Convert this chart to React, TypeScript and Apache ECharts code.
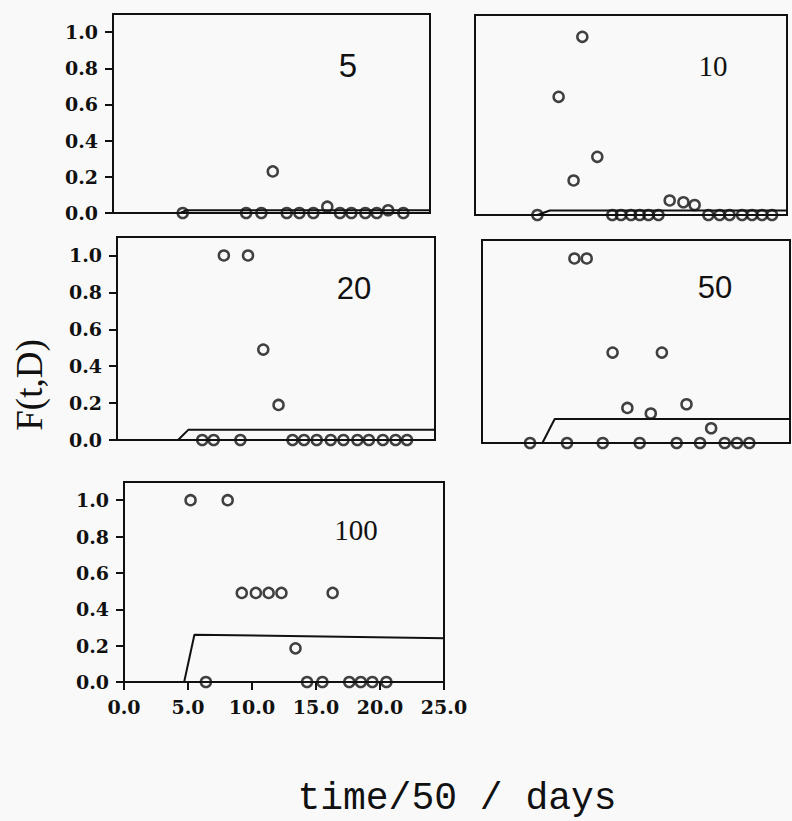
import React, { useEffect, useRef } from "react";
import * as echarts from "echarts";

// ---------- data ----------
const panelNames = ["5", "10", "20", "50", "100"];
const xTicks = [0, 5, 10, 15, 20, 25];
const yTicks = [0, 0.2, 0.4, 0.6, 0.8, 1.0];

// observed points (time/50, F)
const t5 = [5.5, 10.5, 11.7, 12.6, 13.7, 14.7, 15.8, 16.9, 17.9, 18.8, 19.9, 20.8, 21.7, 22.9];
const f5 = [0, 0, 0, 0.23, 0, 0, 0, 0.035, 0, 0, 0, 0, 0.015, 0];

const t10 = [5.0, 6.7, 7.9, 8.6, 9.8, 11.0, 11.7, 12.5, 13.2, 13.9, 14.7, 15.6, 16.7, 17.6, 18.7, 19.6, 20.4, 21.4, 22.2, 23.0, 23.8];
const f10 = [0, 0.65, 0.19, 0.98, 0.32, 0, 0, 0, 0, 0, 0, 0.08, 0.07, 0.055, 0, 0, 0, 0, 0, 0, 0];

const t20 = [6.7, 7.6, 8.4, 9.7, 10.3, 11.5, 12.7, 13.8, 14.7, 15.7, 16.8, 17.8, 18.9, 19.8, 20.9, 21.9, 22.8];
const f20 = [0, 0, 1.0, 0, 1.0, 0.49, 0.19, 0, 0, 0, 0, 0, 0, 0, 0, 0, 0];

const t50 = [3.9, 6.9, 7.5, 8.5, 9.8, 10.6, 11.8, 12.8, 13.7, 14.6, 15.8, 16.6, 17.7, 18.6, 19.7, 20.7, 21.7];
const f50 = [0, 0, 1.0, 1.0, 0, 0.49, 0.19, 0, 0.16, 0.49, 0, 0.21, 0, 0.08, 0, 0, 0];

const t100 = [5.2, 6.4, 8.1, 9.2, 10.3, 11.3, 12.3, 13.4, 14.3, 15.5, 16.3, 17.6, 18.5, 19.4, 20.5];
const f100 = [1.0, 0, 1.0, 0.49, 0.49, 0.49, 0.49, 0.185, 0, 0, 0.49, 0, 0, 0, 0];

// model curves
const m5t = [0, 5.3, 5.8, 25.3];
const m5f = [0, 0, 0.015, 0.015];
const m10t = [0, 5.0, 6.0, 25.2];
const m10f = [0, 0, 0.025, 0.025];
const m20t = [0, 4.8, 5.6, 25.5];
const m20f = [0, 0, 0.055, 0.055];
const m50t = [0, 4.9, 5.9, 25];
const m50f = [0, 0, 0.13, 0.13];
const m100t = [0, 4.7, 5.5, 25.5];
const m100f = [0, 0, 0.26, 0.24];

const obsT = [t5, t10, t20, t50, t100];
const obsF = [f5, f10, f20, f50, f100];
const modT = [m5t, m10t, m20t, m50t, m100t];
const modF = [m5f, m10f, m20f, m50f, m100f];

// ---------- layout ----------
const grids = [
  { left: 113, top: 14, width: 317, height: 199 },
  { left: 475, top: 15, width: 312, height: 200 },
  { left: 117, top: 237, width: 318, height: 203 },
  { left: 482, top: 240, width: 308, height: 203 },
  { left: 124, top: 482, width: 320, height: 200 },
];
const showY = [true, false, true, false, true];
const showX = [false, false, false, false, true];
const labelPos = [
  { x: 348, y: 65, font: "Liberation Sans", size: 33 },
  { x: 713, y: 66, font: "Liberation Serif", size: 29 },
  { x: 354, y: 288, font: "Liberation Sans", size: 31 },
  { x: 715, y: 287, font: "Liberation Sans", size: 31 },
  { x: 356, y: 530, font: "Liberation Serif", size: 29 },
];

const INK = "#111";
const BG = "#f9f9f9";

export default function App() {
  const ref = useRef<HTMLDivElement>(null);
  useEffect(() => {
    document.body.style.margin = "0";
    if (!ref.current) return;
    const chart = echarts.init(ref.current, undefined, { renderer: "svg" });

    const xAxis = grids.map((_, i) => ({
      type: "value",
      gridIndex: i,
      min: 0,
      max: 25,
      interval: 5,
      axisLine: { show: true, onZero: false, lineStyle: { color: INK, width: 2 } },
      axisTick: {
        show: showX[i],
        length: 8,
        customValues: xTicks,
        lineStyle: { color: INK, width: 2 },
      },
      axisLabel: {
        show: showX[i],
        customValues: xTicks,
        formatter: (v: number) => v.toFixed(1),
        fontFamily: "DejaVu Serif",
        fontWeight: "bold",
        fontSize: 19,
        color: INK,
        margin: 15,
      },
      splitLine: { show: false },
    }));

    const yAxis = grids.map((_, i) => ({
      type: "value",
      gridIndex: i,
      min: 0,
      max: 1.1,
      axisLine: { show: true, onZero: false, lineStyle: { color: INK, width: 2 } },
      axisTick: {
        show: showY[i],
        length: 8,
        customValues: yTicks,
        lineStyle: { color: INK, width: 2 },
      },
      axisLabel: {
        show: showY[i],
        customValues: yTicks,
        formatter: (v: number) => v.toFixed(1),
        fontFamily: "DejaVu Serif",
        fontWeight: "bold",
        fontSize: 19,
        color: INK,
        margin: 15,
      },
      splitLine: { show: false },
    }));

    const series: any[] = [];
    grids.forEach((_, i) => {
      series.push({
        type: "line",
        name: "model " + panelNames[i],
        xAxisIndex: i,
        yAxisIndex: i,
        data: modT[i].map((t, k) => [t, modF[i][k]]),
        showSymbol: false,
        symbol: "none",
        clip: false,
        lineStyle: { color: INK, width: 2 },
        z: 3,
      });
      series.push({
        type: "scatter",
        name: "obs " + panelNames[i],
        xAxisIndex: i,
        yAxisIndex: i,
        data: obsT[i].map((t, k) => [t, obsF[i][k]]),
        symbol: "circle",
        symbolSize: 10,
        clip: false,
        itemStyle: { color: "rgba(0,0,0,0)", borderColor: INK, borderWidth: 2.5 },
        z: 2,
      });
    });

    const graphic: any[] = labelPos.map((p, i) => ({
      type: "text",
      x: p.x,
      y: p.y,
      style: {
        text: panelNames[i],
        fontFamily: p.font,
        fontSize: p.size,
        fill: INK,
        align: "center",
        verticalAlign: "middle",
      },
    }));
    graphic.push({
      type: "text",
      x: 29,
      y: 385,
      rotation: Math.PI / 2,
      style: {
        text: "F(t,D)",
        fontFamily: "Liberation Serif",
        fontSize: 37,
        fill: INK,
        align: "center",
        verticalAlign: "middle",
      },
    });
    graphic.push({
      type: "text",
      x: 457,
      y: 798,
      style: {
        text: "time/50 / days",
        fontFamily: "Liberation Mono",
        fontSize: 38,
        fill: INK,
        align: "center",
        verticalAlign: "middle",
      },
    });

    chart.setOption({
      animation: false,
      backgroundColor: BG,
      grid: grids.map((g) => ({
        ...g,
        show: true,
        borderColor: INK,
        borderWidth: 2,
        backgroundColor: "transparent",
        containLabel: false,
      })),
      xAxis,
      yAxis,
      series,
      graphic,
    });
    return () => chart.dispose();
  }, []);
  return <div ref={ref} style={{ width: 792, height: 821 }} />;
}
